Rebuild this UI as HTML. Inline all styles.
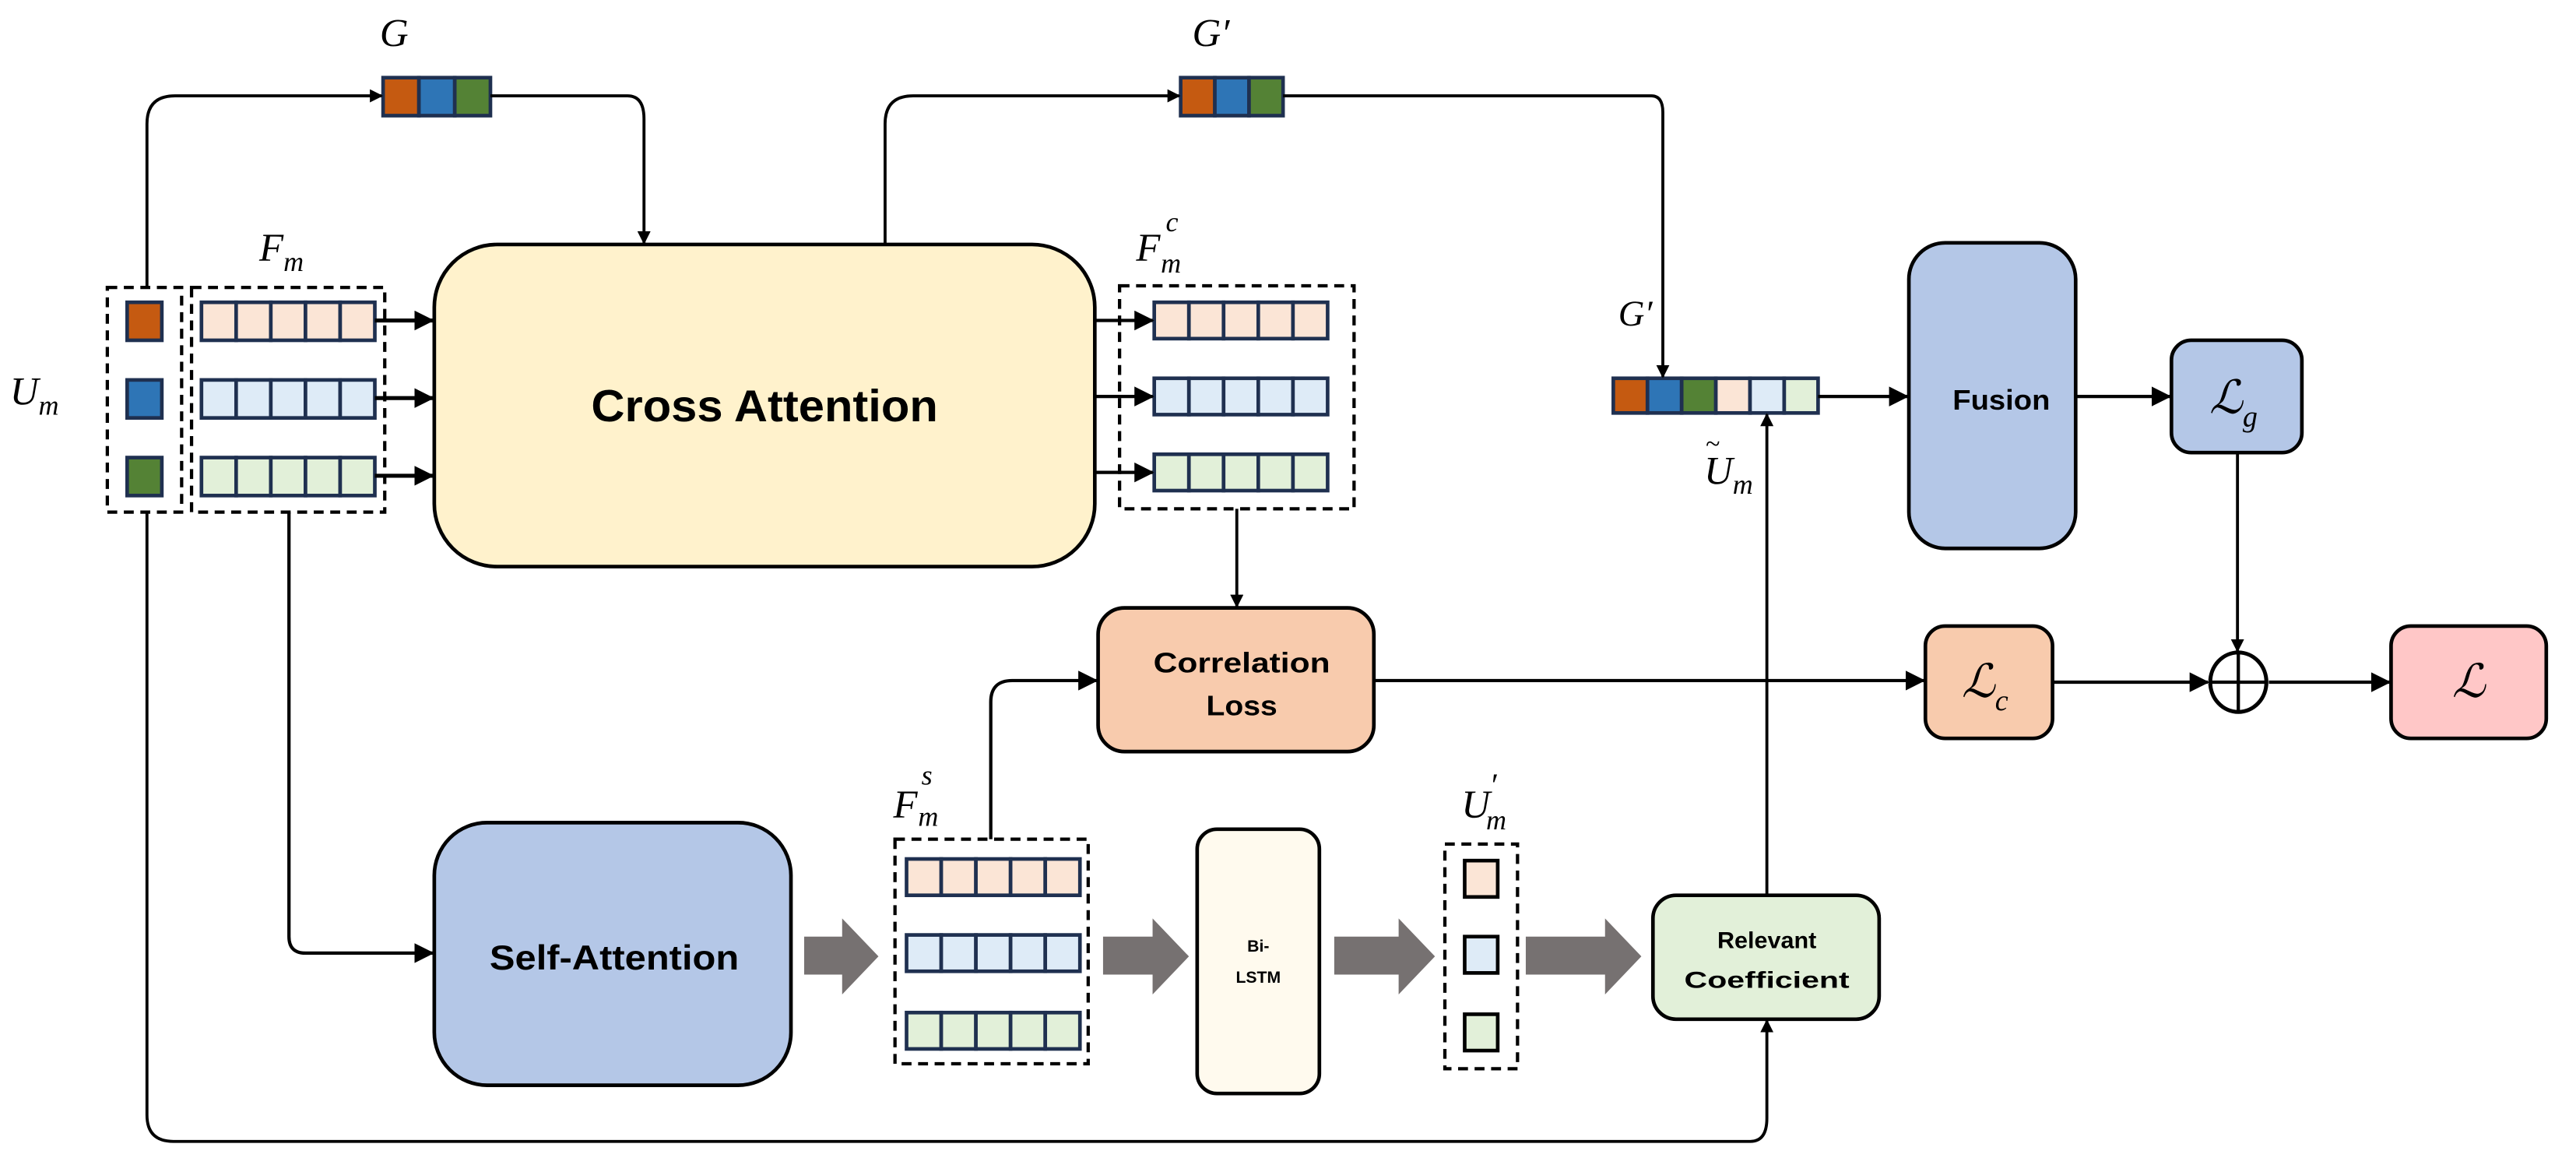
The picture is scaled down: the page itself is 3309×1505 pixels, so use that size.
<!DOCTYPE html>
<html><head><meta charset="utf-8"><style>html,body{margin:0;padding:0;background:#fff}svg{display:block}</style></head>
<body>
<svg width="3309" height="1505" viewBox="0 0 1560 709.5" xmlns="http://www.w3.org/2000/svg">
<defs>
<marker id="a" markerWidth="8" markerHeight="8" refX="7" refY="4" orient="auto" markerUnits="userSpaceOnUse"><path d="M0,0 L8,4 L0,8 z" fill="#000"/></marker>
<marker id="b" markerWidth="12" markerHeight="12" refX="11" refY="6" orient="auto" markerUnits="userSpaceOnUse"><path d="M0,0 L12,6 L0,12 z" fill="#000"/></marker>
</defs>
<g font-family="Liberation Sans, sans-serif" font-weight="bold" text-anchor="middle" fill="#000">
<rect x="263" y="148" width="400" height="195" rx="38" fill="#fff2cc" stroke="#000" stroke-width="2.2"/>
<text x="463" y="255" font-size="27" textLength="210" lengthAdjust="spacingAndGlyphs">Cross Attention</text>
<rect x="1156" y="147" width="101" height="185" rx="22" fill="#b4c7e7" stroke="#000" stroke-width="2.2"/>
<text x="1212" y="248" font-size="17" textLength="59" lengthAdjust="spacingAndGlyphs">Fusion</text>
<rect x="1315" y="206" width="79" height="68" rx="12" fill="#b4c7e7" stroke="#000" stroke-width="2.2"/>
<rect x="665" y="368" width="167" height="87" rx="16" fill="#f8cbad" stroke="#000" stroke-width="2.2"/>
<text x="752" y="407" font-size="17" textLength="107" lengthAdjust="spacingAndGlyphs">Correlation</text>
<text x="752" y="433" font-size="17" textLength="43" lengthAdjust="spacingAndGlyphs">Loss</text>
<rect x="1166" y="379" width="77" height="68" rx="12" fill="#f8cbad" stroke="#000" stroke-width="2.2"/>
<rect x="1448" y="379" width="94" height="68" rx="12" fill="#ffc7c7" stroke="#000" stroke-width="2.2"/>
<rect x="263" y="498" width="216" height="159" rx="32" fill="#b4c7e7" stroke="#000" stroke-width="2.2"/>
<text x="372" y="587" font-size="21" textLength="151" lengthAdjust="spacingAndGlyphs">Self-Attention</text>
<rect x="725" y="502" width="74" height="160" rx="12" fill="#fffaee" stroke="#000" stroke-width="2.2"/>
<text x="762" y="576" font-size="10">Bi-</text>
<text x="762" y="595" font-size="10">LSTM</text>
<rect x="1001" y="542" width="137" height="75" rx="14" fill="#e2f0d9" stroke="#000" stroke-width="2.2"/>
<text x="1070" y="574" font-size="14" textLength="60" lengthAdjust="spacingAndGlyphs">Relevant</text>
<text x="1070" y="598" font-size="14" textLength="100" lengthAdjust="spacingAndGlyphs">Coefficient</text>
</g>
<g font-family="Liberation Serif, serif" font-style="italic" fill="#000" font-size="24">
<text x="230" y="28">G</text>
<text x="722" y="28">G′</text>
<text x="157" y="158">F<tspan font-size="17" dy="6">m</tspan></text>
<text x="688" y="158">F</text><text x="706" y="140" font-size="17">c</text><text x="703" y="165" font-size="17">m</text>
<text x="6" y="245">U<tspan font-size="17" dy="6">m</tspan></text>
<text x="980" y="197" font-size="22">G′</text>
<text x="1032" y="293">U<tspan font-size="17" dy="6">m</tspan></text>
<text x="1033" y="274" font-size="16" font-style="normal">~</text>
<text x="541" y="495">F</text><text x="558" y="475" font-size="17">s</text><text x="556" y="500" font-size="17">m</text>
<text x="885" y="495">U</text><text x="902" y="482" font-size="20">′</text><text x="900" y="502" font-size="17">m</text>
<text x="1338" y="250" font-size="28">ℒ<tspan font-size="18" dy="8">g</tspan></text>
<text x="1188" y="422" font-size="28">ℒ<tspan font-size="18" dy="8">c</tspan></text>
<text x="1485" y="422" font-size="28">ℒ</text>
</g>
<g fill="none" stroke="#000" stroke-width="2" stroke-dasharray="6,4">
<rect x="65" y="174" width="45" height="136"/>
<rect x="116" y="174" width="117" height="136"/>
<rect x="678" y="173" width="142" height="135"/>
<rect x="542" y="508" width="117" height="136"/>
<rect x="875" y="511" width="44" height="136"/>
</g>
<g stroke="#1f3050" stroke-width="2.2">
<rect x="77" y="183" width="21" height="23" fill="#c55a11"/>
<rect x="77" y="230" width="21" height="23" fill="#2e75b6"/>
<rect x="77" y="277" width="21" height="23" fill="#548235"/>
<rect x="887" y="521" width="20" height="22" fill="#fbe5d6" stroke="#000"/>
<rect x="887" y="567" width="20" height="22" fill="#deebf7" stroke="#000"/>
<rect x="887" y="614" width="20" height="22" fill="#e2f0d9" stroke="#000"/>
<rect x="232" y="47" width="21.7" height="23" fill="#c55a11"/><rect x="253.7" y="47" width="21.7" height="23" fill="#2e75b6"/><rect x="275.4" y="47" width="21.6" height="23" fill="#548235"/>
<rect x="715" y="47" width="20.7" height="23" fill="#c55a11"/><rect x="735.7" y="47" width="20.7" height="23" fill="#2e75b6"/><rect x="756.4" y="47" width="20.6" height="23" fill="#548235"/>
<rect x="977" y="229" width="20.7" height="21" fill="#c55a11"/><rect x="997.7" y="229" width="20.7" height="21" fill="#2e75b6"/><rect x="1018.4" y="229" width="20.7" height="21" fill="#548235"/><rect x="1039.1" y="229" width="20.7" height="21" fill="#fbe5d6"/><rect x="1059.8" y="229" width="20.7" height="21" fill="#deebf7"/><rect x="1080.5" y="229" width="20.5" height="21" fill="#e2f0d9"/>
</g>
<g stroke="#1f3050" stroke-width="2.2">
<g fill="#fbe5d6"><rect x="122" y="183" width="21" height="23"/><rect x="143" y="183" width="21" height="23"/><rect x="164" y="183" width="21" height="23"/><rect x="185" y="183" width="21" height="23"/><rect x="206" y="183" width="21" height="23"/></g>
<g fill="#deebf7"><rect x="122" y="230" width="21" height="23"/><rect x="143" y="230" width="21" height="23"/><rect x="164" y="230" width="21" height="23"/><rect x="185" y="230" width="21" height="23"/><rect x="206" y="230" width="21" height="23"/></g>
<g fill="#e2f0d9"><rect x="122" y="277" width="21" height="23"/><rect x="143" y="277" width="21" height="23"/><rect x="164" y="277" width="21" height="23"/><rect x="185" y="277" width="21" height="23"/><rect x="206" y="277" width="21" height="23"/></g>
<g fill="#fbe5d6"><rect x="699" y="183" width="21" height="22"/><rect x="720" y="183" width="21" height="22"/><rect x="741" y="183" width="21" height="22"/><rect x="762" y="183" width="21" height="22"/><rect x="783" y="183" width="21" height="22"/></g>
<g fill="#deebf7"><rect x="699" y="229" width="21" height="22"/><rect x="720" y="229" width="21" height="22"/><rect x="741" y="229" width="21" height="22"/><rect x="762" y="229" width="21" height="22"/><rect x="783" y="229" width="21" height="22"/></g>
<g fill="#e2f0d9"><rect x="699" y="275" width="21" height="22"/><rect x="720" y="275" width="21" height="22"/><rect x="741" y="275" width="21" height="22"/><rect x="762" y="275" width="21" height="22"/><rect x="783" y="275" width="21" height="22"/></g>
<g fill="#fbe5d6"><rect x="549" y="520" width="21" height="22"/><rect x="570" y="520" width="21" height="22"/><rect x="591" y="520" width="21" height="22"/><rect x="612" y="520" width="21" height="22"/><rect x="633" y="520" width="21" height="22"/></g>
<g fill="#deebf7"><rect x="549" y="566" width="21" height="22"/><rect x="570" y="566" width="21" height="22"/><rect x="591" y="566" width="21" height="22"/><rect x="612" y="566" width="21" height="22"/><rect x="633" y="566" width="21" height="22"/></g>
<g fill="#e2f0d9"><rect x="549" y="613" width="21" height="22"/><rect x="570" y="613" width="21" height="22"/><rect x="591" y="613" width="21" height="22"/><rect x="612" y="613" width="21" height="22"/><rect x="633" y="613" width="21" height="22"/></g>
</g>
<g fill="none" stroke="#000" stroke-width="1.8">
<path d="M89,174 V75 Q89,58 106,58 H231" marker-end="url(#a)"/>
<path d="M297,58 H380 Q390,58 390,72 V147" marker-end="url(#a)"/>
<path d="M536,148 V75 Q536,58 553,58 H714" marker-end="url(#a)"/>
<path d="M777,58 H1000 Q1007,58 1007,68 V228" marker-end="url(#a)"/>
<path d="M89,310 V675 Q89,691 105,691 H1060 Q1070,691 1070,677 V618" marker-end="url(#a)"/>
<path d="M1070,542 V251" marker-end="url(#a)"/>
<path d="M175,310 V567 Q175,577 185,577 H262" marker-end="url(#b)" stroke-width="2"/>
<path d="M749,308 V367" marker-end="url(#a)"/>
<path d="M600,508 V425 Q600,412 613,412 H664" marker-end="url(#b)" stroke-width="2"/>
<path d="M832,412 H1165" marker-end="url(#b)" stroke-width="2"/>
<path d="M1243,413 H1337" marker-end="url(#b)" stroke-width="2"/>
<path d="M1374,413 H1447" marker-end="url(#b)" stroke-width="2"/>
<path d="M1355,274 V394" marker-end="url(#a)"/>
<path d="M1101,240 H1155" marker-end="url(#b)" stroke-width="2"/>
<path d="M1257,240 H1314" marker-end="url(#b)" stroke-width="2"/>
<path d="M227,194 H262" marker-end="url(#b)" stroke-width="2.4"/>
<path d="M227,241 H262" marker-end="url(#b)" stroke-width="2.4"/>
<path d="M227,288 H262" marker-end="url(#b)" stroke-width="2.4"/>
<path d="M663,194 H698" marker-end="url(#b)" stroke-width="2"/>
<path d="M663,240 H698" marker-end="url(#b)" stroke-width="2"/>
<path d="M663,286 H698" marker-end="url(#b)" stroke-width="2"/>
<ellipse cx="1355.5" cy="413" rx="17" ry="18" stroke-width="2.4"/>
<path d="M1338.5,413 H1372.5 M1355.5,395 V431" stroke-width="2"/>
</g>
<g fill="#767171">
<path d="M487,567 H510 V556 L532,579 L510,602 V590 H487 z"/>
<path d="M668,567 H698 V556 L720,579 L698,602 V590 H668 z"/>
<path d="M808,567 H847 V556 L869,579 L847,602 V590 H808 z"/>
<path d="M924,567 H972 V556 L994,579 L972,602 V590 H924 z"/>
</g>
</svg>
</body></html>
